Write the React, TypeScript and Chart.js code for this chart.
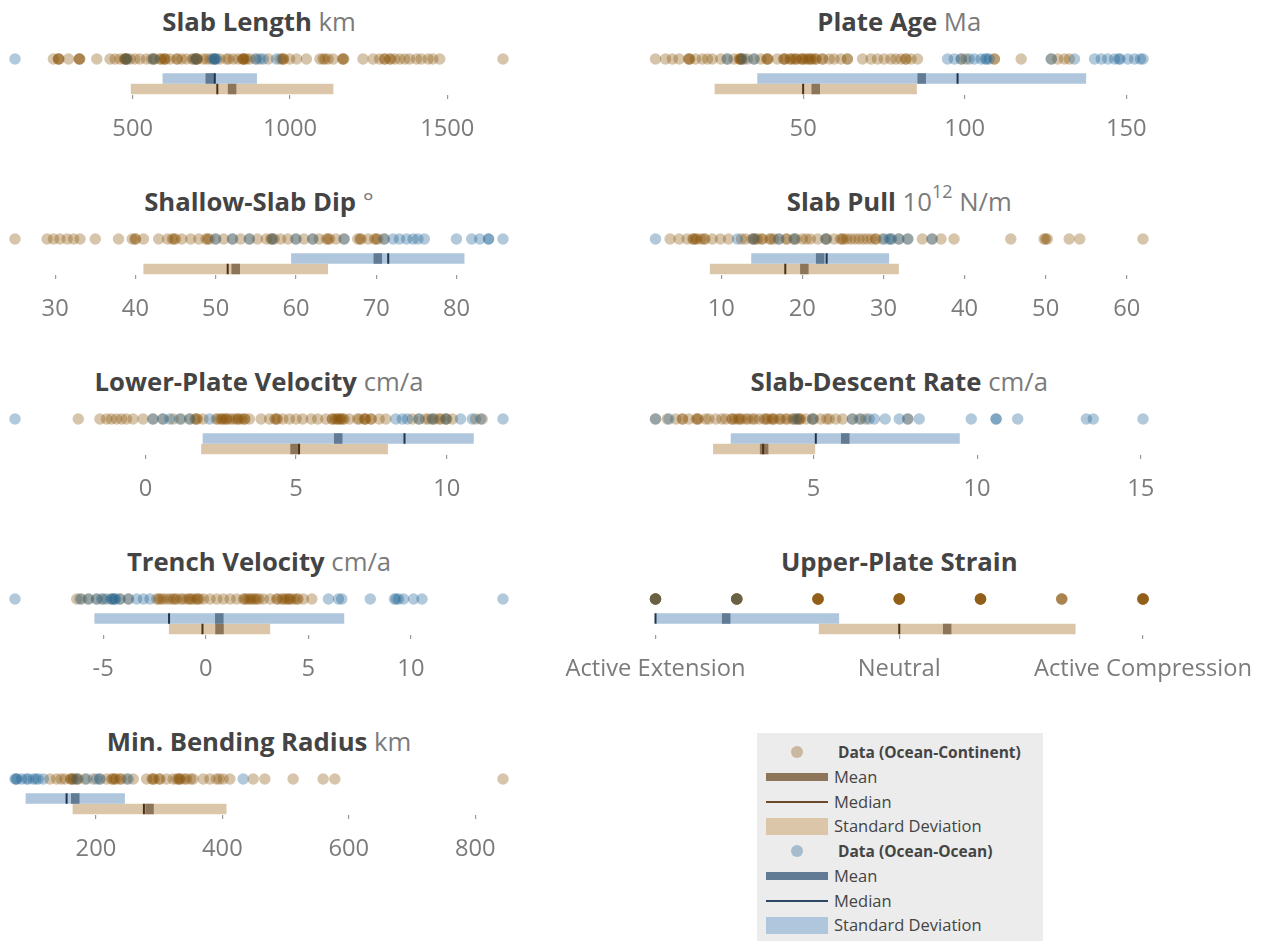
import React, { useEffect, useRef } from "react";
import { Chart, registerables } from "chart.js";

Chart.register(...registerables);
Chart.defaults.font.family = "'Open Sans', sans-serif";

// ---------------- DATA ----------------
const slabLengthOC = [248, 264, 264, 266, 296, 330, 330, 332, 386, 428, 444, 460, 474, 476, 478, 478, 482, 492, 507, 523, 544, 560, 566, 570, 587, 590, 600, 601, 605, 619, 640, 642, 656, 671, 690, 693, 701, 703, 705, 705, 724, 735, 746, 760, 777, 798, 805, 820, 835, 849, 851, 853, 855, 862, 872, 894, 931, 968, 976, 978, 980, 999, 1021, 1052, 1095, 1105, 1111, 1121, 1137, 1167, 1169, 1171, 1232, 1264, 1285, 1301, 1301, 1317, 1320, 1333, 1349, 1365, 1380, 1402, 1417, 1439, 1454, 1476, 1677];
const slabLengthOO = [126, 481, 566, 700, 755, 759, 763, 766, 890, 905, 915, 957];
const slabLengthTicks = [500, 1000, 1500];

const plateAgeOC = [4.3, 7.4, 9.5, 11.6, 14.5, 14.7, 14.9, 16.7, 18.8, 20.4, 21.9, 24.5, 26.5, 28.6, 30.2, 30.5, 30.7, 30.9, 31, 32.7, 34.8, 36.9, 38.7, 39, 39.1, 42.0, 44, 44.1, 44.5, 46, 46.2, 47.0, 47.7, 48, 49.3, 49.8, 50, 50.8, 51.5, 52, 52.4, 53.0, 53.9, 54, 56, 56.0, 58.1, 59.6, 61.7, 63.7, 63.7, 68.4, 71.0, 73.0, 75.1, 77.2, 78.7, 80.3, 81.8, 81.8, 83.4, 85.4, 99.0, 100.4, 109.2, 109.2, 117.5, 126.8, 128.8, 130.9, 132.4];
const plateAgeOO = [26.5, 31.7, 34.8, 94.7, 96.8, 98.9, 101.4, 103, 105.1, 106.4, 106.8, 107.6, 126.8, 134, 140.2, 142.3, 144.3, 146.4, 147.7, 148.1, 150.5, 152.6, 154.4, 155.2];
const plateAgeTicks = [50, 100, 150];

const slabDipOC = [25, 29, 29.8, 30.6, 31.5, 32.3, 33.1, 35, 37.9, 39.6, 40, 40, 41, 42.9, 44, 44.6, 44.8, 45, 45.8, 46.9, 47.9, 48.8, 49, 49.2, 50, 51, 52.1, 53.1, 54.2, 55.2, 56.3, 56.9, 57, 57.3, 58.1, 59, 60, 61, 62.1, 62.9, 63.8, 64, 64.2, 65, 66, 67.7, 68, 68.1, 69, 69.8, 70, 70.2, 71];
const slabDipOO = [50, 52.1, 54.2, 57.1, 60, 62.1, 66, 71, 72.1, 72.9, 73.8, 74.6, 75.2, 76, 80, 81.9, 82.9, 84, 84, 85.8];
const slabDipTicks = [30, 40, 50, 60, 70, 80];

const slabPullOC = [3.7, 4.8, 5.8, 6.5, 6.6, 6.8, 7.0, 7.5, 7.9, 8.0, 8.9, 9.9, 10.9, 12.5, 13.0, 13.8, 14, 14.2, 14.5, 15, 15.1, 16.0, 16.1, 16.5, 17.1, 18.0, 18.1, 19, 19.2, 20, 20.5, 21, 21.9, 22.9, 23, 23.9, 24.7, 24.9, 25.1, 25.5, 26, 26.5, 27, 27.5, 28, 28.5, 29, 29.1, 29.9, 30.9, 31.9, 33, 34.8, 36, 37.1, 38.7, 45.7, 49.8, 50, 50.2, 52.9, 54.2, 62];
const slabPullOO = [1.9, 12.0, 14.0, 17.1, 19.0, 22.9, 30.1, 30.7, 31.0, 31.9, 33, 36];
const slabPullTicks = [10, 20, 30, 40, 50, 60];

const lowerVelOC = [-2.23, -1.51, -1.29, -1.13, -0.96, -0.79, -0.63, -0.41, -0.08, 0.25, 0.58, 0.92, 1.19, 1.47, 1.65, 1.69, 1.72, 1.91, 2.35, 2.4, 2.5, 2.55, 2.6, 2.68, 2.7, 2.8, 2.9, 3.0, 3.07, 3.1, 3.2, 3.29, 3.3, 3.45, 3.84, 4.12, 4.3, 4.34, 4.38, 4.56, 4.78, 5.0, 5.22, 5.5, 5.72, 5.99, 6.2, 6.21, 6.3, 6.35, 6.41, 6.45, 6.5, 6.55, 6.6, 6.77, 7.04, 7.1, 7.26, 7.3, 7.3, 7.48, 7.5, 7.76, 7.98, 8.86, 9.08, 9.3, 9.4, 9.53, 9.6, 9.75, 9.8, 9.97, 10.0, 10.19, 10.96, 11.18];
const lowerVelOO = [-4.33, 0.25, 0.58, 0.81, 1.14, 1.47, 2.13, 8.31, 8.53, 8.7, 9.08, 9.53, 9.97, 10.46, 10.85, 11.13, 11.87];
const lowerVelTicks = [0, 5, 10];

const descentOC = [0.17, 0.53, 0.79, 0.99, 1.0, 1.19, 1.42, 1.45, 1.48, 1.70, 1.8, 2.01, 2.2, 2.32, 2.5, 2.52, 2.6, 2.7, 2.74, 2.8, 2.93, 3.0, 3.13, 3.2, 3.34, 3.5, 3.54, 3.6, 3.72, 3.76, 3.8, 3.95, 4.0, 4.15, 4.2, 4.36, 4.4, 4.5, 4.54, 4.58, 4.6, 4.77, 4.97, 5.0, 5.22, 5.4, 5.48, 5.68, 5.89, 6.19, 6.4, 6.6, 7.88];
const descentOO = [0.17, 0.58, 4.46, 4.97, 6.19, 6.45, 6.7, 6.86, 7.19, 7.62, 7.88, 8.23, 9.82, 10.58, 10.58, 11.24, 13.34, 13.55, 15.07];
const descentTicks = [5, 10, 15];

const trenchVelOC = [-6.29, -6.05, -5.72, -5.32, -4.99, -4.59, -4.18, -3.77, -2.39, -2.3, -2.2, -2.07, -1.9, -1.74, -1.6, -1.5, -1.41, -1.2, -1.09, -0.9, -0.8, -0.72, -0.6, -0.44, -0.4, -0.3, -0.11, 0.21, 0.54, 0.86, 1.19, 1.51, 1.84, 1.9, 2.0, 2.12, 2.2, 2.3, 2.4, 2.49, 2.6, 2.81, 3.14, 3.46, 3.5, 3.7, 3.79, 3.9, 4.0, 4.07, 4.15, 4.3, 4.44, 4.5, 4.76, 5.17];
const trenchVelOO = [-9.3, -6.13, -5.72, -5.32, -5.07, -4.83, -4.6, -4.5, -4.45, -4.4, -4.18, -3.77, -3.37, -3.04, -2.72, 5.98, 6.47, 6.63, 8.02, 9.2, 9.28, 9.4, 9.64, 10.13, 10.54, 14.49];
const trenchVelTicks = [-5, 0, 5, 10];

const strainOC = [-3, -3, -3, -3, -3, -3, -2, -2, -2, -2, -2, -2, -1, -1, -1, -1, -1, -1, 0, 0, 0, 0, 0, 0, 1, 1, 1, 1, 1, 1, 2, 2, 2, 3, 3, 3, 3, 3, 3];
const strainOO = [-3, -2];
const strainTicks = [-3, 0, 3];
const strainTickLabels = ["Active Extension", "Neutral", "Active Compression"];

const bendingOC = [127.3, 137.8, 145, 151, 160, 161, 163, 165, 170, 172, 182.6, 195.8, 206.3, 216.9, 225, 227, 229, 232, 237.9, 240, 248.5, 259, 280.1, 289, 290, 292, 300, 301.2, 311.7, 322.2, 328, 331, 332, 334, 340, 343.3, 350, 353.8, 369.7, 380.2, 390.7, 395, 401.3, 411.8, 448.7, 467.1, 511.9, 559.3, 577.8, 843.8];
const bendingOO = [72, 74, 75, 82.5, 90, 93, 101, 105, 108.9, 116.8, 169.4, 185.2, 201, 206.3, 251.1, 432.9];
const bendingTicks = [200, 400, 600, 800];

// Summary statistics, in panel order:
// Slab Length, Plate Age, Shallow-Slab Dip, Slab Pull, Lower-Plate Velocity,
// Slab-Descent Rate, Trench Velocity, Upper-Plate Strain, Min. Bending Radius
const ocMean = [816, 53.9, 52.5, 20.25, 4.95, 3.49, 0.67, 0.59, 284.8];
const ocMedian = [769, 50.0, 51.5, 17.9, 5.1, 3.46, -0.16, 0, 275.9];
const ocStd = [322, 31.3, 11.5, 11.65, 3.1, 1.56, 2.47, 1.58, 121.7];
const ooMean = [745, 86.7, 70.2, 22.2, 6.4, 5.97, 0.66, -2.13, 167.3];
const ooMedian = [761, 97.8, 71.5, 23.0, 8.6, 5.07, -1.79, -3, 153.6];
const ooStd = [150, 50.9, 10.8, 8.5, 4.5, 3.5, 6.09, 1.39, 78.5];

const panelTitles = ["Slab Length", "Plate Age", "Shallow-Slab Dip", "Slab Pull", "Lower-Plate Velocity", "Slab-Descent Rate", "Trench Velocity", "Upper-Plate Strain", "Min. Bending Radius"];
const panelUnits = ["km", "Ma", "°", "N/m", "cm/a", "cm/a", "cm/a", "", "km"];

// ---------------- STYLE ----------------
const TAN_PT = "rgba(135,80,0,0.33)";
const BLUE_PT = "rgba(31,100,150,0.35)";
const TAN_SD = "#dcc6a9";
const BLUE_SD = "#afc6dd";
const TAN_MEAN = "#8c7558";
const BLUE_MEAN = "#627b95";
const TAN_MED = "#4a2f15";
const BLUE_MED = "#1f3350";
const TICK_COLOR = "#7b7b7b";

const LANE_PTS = 14;
const LANE_OO = 33.5;
const LANE_OC = 44;

const COLS = [
  { plotLeft: 15, plotRight: 503, canvasLeft: 0, canvasRight: 560 },
  { plotLeft: 655.5, plotRight: 1143, canvasLeft: 540, canvasRight: 1266 },
];
const ROW_H = 180;

type PanelDef = {
  idx: number;
  oc: number[];
  oo: number[];
  ticks: number[];
  tickLabels?: string[];
  col: number;
  row: number;
  min?: number;
  max?: number;
};

const panels: PanelDef[] = [
  { idx: 0, oc: slabLengthOC, oo: slabLengthOO, ticks: slabLengthTicks, col: 0, row: 0 },
  { idx: 1, oc: plateAgeOC, oo: plateAgeOO, ticks: plateAgeTicks, col: 1, row: 0 },
  { idx: 2, oc: slabDipOC, oo: slabDipOO, ticks: slabDipTicks, col: 0, row: 1 },
  { idx: 3, oc: slabPullOC, oo: slabPullOO, ticks: slabPullTicks, col: 1, row: 1 },
  { idx: 4, oc: lowerVelOC, oo: lowerVelOO, ticks: lowerVelTicks, col: 0, row: 2 },
  { idx: 5, oc: descentOC, oo: descentOO, ticks: descentTicks, col: 1, row: 2 },
  { idx: 6, oc: trenchVelOC, oo: trenchVelOO, ticks: trenchVelTicks, col: 0, row: 3 },
  { idx: 7, oc: strainOC, oo: strainOO, ticks: strainTicks, tickLabels: strainTickLabels, col: 1, row: 3, min: -3, max: 3 },
  { idx: 8, oc: bendingOC, oo: bendingOO, ticks: bendingTicks, col: 0, row: 4 },
];

function PanelChart({ p }: { p: PanelDef }) {
  const ref = useRef<HTMLCanvasElement>(null);
  const c = COLS[p.col];
  const top = p.row * ROW_H + 35;
  const width = c.canvasRight - c.canvasLeft;
  const height = 110;

  useEffect(() => {
    const all = [...p.oc, ...p.oo];
    const min = p.min ?? Math.min(...all);
    const max = p.max ?? Math.max(...all);
    const i = p.idx;

    const bar = (mean: number, std: number, lane: number, color: string, order: number) => ({
      data: [{ x: mean - std, y: lane }, { x: mean + std, y: lane }],
      showLine: true,
      borderColor: color,
      borderWidth: 10.5,
      borderCapStyle: "butt",
      pointRadius: 0,
      clip: 0,
      order,
    });
    const mark = (v: number, lane: number, color: string, w: number, order: number) => ({
      data: [{ x: v, y: lane }],
      showLine: false,
      pointStyle: "line",
      pointRotation: 90,
      pointRadius: 5.25,
      pointBorderWidth: w,
      pointBorderColor: color,
      pointBackgroundColor: color,
      clip: false,
      order,
    });
    const pts = (vals: number[], color: string, order: number) => ({
      data: vals.map((v) => ({ x: v, y: LANE_PTS })),
      showLine: false,
      pointRadius: 5.75,
      pointBorderWidth: 0,
      pointBackgroundColor: color,
      pointBorderColor: color,
      clip: false,
      order,
    });

    const chart = new Chart(ref.current!, {
      type: "scatter",
      data: {
        datasets: [
          pts(p.oc, TAN_PT, 11),
          pts(p.oo, BLUE_PT, 10),
          bar(ooMean[i], ooStd[i], LANE_OO, BLUE_SD, 9),
          bar(ocMean[i], ocStd[i], LANE_OC, TAN_SD, 9),
          mark(ooMean[i], LANE_OO, BLUE_MEAN, 8.5, 5),
          mark(ocMean[i], LANE_OC, TAN_MEAN, 8.5, 5),
          mark(ooMedian[i], LANE_OO, BLUE_MED, 2, 1),
          mark(ocMedian[i], LANE_OC, TAN_MED, 2, 1),
        ] as any,
      },
      options: {
        animation: false,
        responsive: false,
        events: [],
        layout: {
          autoPadding: false,
          padding: { left: c.plotLeft - c.canvasLeft, right: c.canvasRight - c.plotRight, top: 10, bottom: 0 },
        },
        plugins: { legend: { display: false }, tooltip: { enabled: false }, title: { display: false } },
        scales: {
          x: {
            type: "linear",
            min,
            max,
            border: { display: false },
            grid: { drawOnChartArea: false, drawTicks: true, tickLength: 4, color: "#9a9a9a", lineWidth: 1.2 },
            ticks: {
              font: { family: "'Open Sans', sans-serif", size: 23.7 },
              color: TICK_COLOR,
              padding: 16,
              maxRotation: 0,
              minRotation: 0,
              autoSkip: false,
              callback: (v: any) => {
                const k = p.ticks.indexOf(Number(v));
                if (p.tickLabels && k >= 0) return p.tickLabels[k];
                return String(v);
              },
            },
            afterBuildTicks: (scale: any) => {
              scale.ticks = p.ticks.map((v) => ({ value: v }));
            },
            afterFit: (scale: any) => {
              scale.height = 50;
              scale.paddingLeft = 0;
              scale.paddingRight = 0;
            },
          },
          y: { type: "linear", min: 0, max: 50, reverse: true, display: false },
        },
      } as any,
    });
    return () => chart.destroy();
  }, []);

  return (
    <canvas
      ref={ref}
      width={width}
      height={height}
      style={{ position: "absolute", left: c.canvasLeft, top, width, height, display: "block" }}
    />
  );
}

function PanelTitle({ p }: { p: PanelDef }) {
  const c = COLS[p.col];
  const i = p.idx;
  return (
    <div
      style={{
        position: "absolute",
        left: c.plotLeft,
        width: c.plotRight - c.plotLeft,
        top: p.row * ROW_H + 7,
        textAlign: "center",
        fontSize: 25.7,
        lineHeight: "30px",
        whiteSpace: "nowrap",
      }}
    >
      <span style={{ fontWeight: 700, color: "#444" }}>{panelTitles[i]}</span>
      {i === 3 ? (
        <span style={{ color: TICK_COLOR }}>
          {" "}10<sup style={{ fontSize: "0.7em", lineHeight: 0, verticalAlign: "0.7em" }}>12</sup> {panelUnits[i]}
        </span>
      ) : panelUnits[i] ? (
        <span style={{ color: TICK_COLOR }}>{" " + panelUnits[i]}</span>
      ) : null}
    </div>
  );
}

const legendRows = [
  { kind: "dot", color: TAN_PT, text: "Data (Ocean-Continent)" },
  { kind: "mean", color: TAN_MEAN, text: "Mean" },
  { kind: "median", color: "#6b4a2b", text: "Median" },
  { kind: "sd", color: TAN_SD, text: "Standard Deviation" },
  { kind: "dot", color: BLUE_PT, text: "Data (Ocean-Ocean)" },
  { kind: "mean", color: BLUE_MEAN, text: "Mean" },
  { kind: "median", color: "#2d4766", text: "Median" },
  { kind: "sd", color: BLUE_SD, text: "Standard Deviation" },
];

function Legend() {
  return (
    <div style={{ position: "absolute", left: 757, top: 733, width: 286, height: 208, background: "#ececec" }}>
      {legendRows.map((r, k) => {
        const cy = 19 + k * 24.75;
        let sw: any = null;
        if (r.kind === "dot")
          sw = <div style={{ position: "absolute", left: 34, top: cy - 6, width: 12, height: 12, borderRadius: 6, background: r.color }} />;
        else if (r.kind === "mean")
          sw = <div style={{ position: "absolute", left: 9, top: cy - 4, width: 62, height: 8, background: r.color }} />;
        else if (r.kind === "median")
          sw = <div style={{ position: "absolute", left: 9, top: cy - 1, width: 62, height: 2, background: r.color }} />;
        else sw = <div style={{ position: "absolute", left: 9, top: cy - 8.5, width: 62, height: 17, background: r.color }} />;
        const bold = r.kind === "dot";
        return (
          <React.Fragment key={k}>
            {sw}
            <div
              style={{
                position: "absolute",
                left: bold ? 81 : 77,
                top: cy - 12,
                height: 24,
                lineHeight: "24px",
                fontSize: bold ? 15.5 : 16.5,
                fontWeight: bold ? 700 : 400,
                color: "#444",
                whiteSpace: "nowrap",
              }}
            >
              {r.text}
            </div>
          </React.Fragment>
        );
      })}
    </div>
  );
}

export default function App() {
  return (
    <div
      style={{
        position: "absolute",
        left: 0,
        top: 0,
        width: 1266,
        height: 941,
        background: "#fff",
        fontFamily: "'Open Sans', sans-serif",
        overflow: "hidden",
      }}
    >
      {panels.map((p) => (
        <React.Fragment key={p.idx}>
          <PanelTitle p={p} />
          <PanelChart p={p} />
        </React.Fragment>
      ))}
      <Legend />
    </div>
  );
}
